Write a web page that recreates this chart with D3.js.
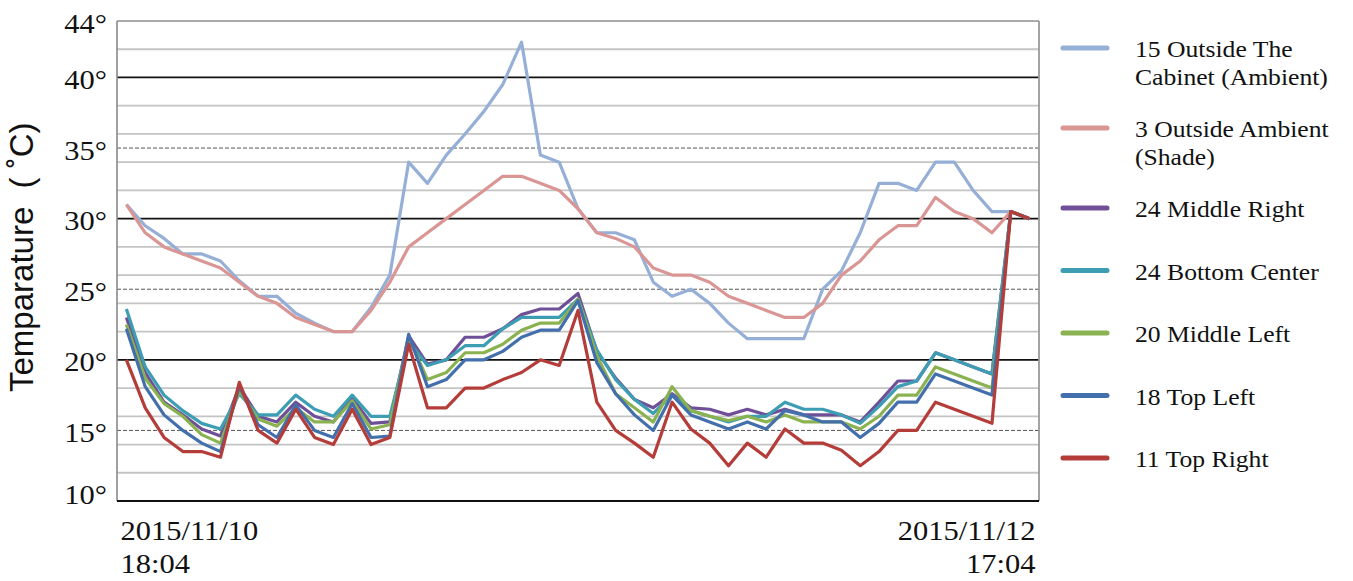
<!DOCTYPE html>
<html>
<head>
<meta charset="utf-8">
<script src="https://cdn.jsdelivr.net/npm/d3@7"></script>
<style>
  body { margin: 0; background: #fff; }
  .serif { font-family: "Liberation Serif", "Times New Roman", serif; fill: #111; }
</style>
</head>
<body>
<div class="chart"></div>
<script>
// sample index (readings between 2015/11/10 18:04 and 2015/11/12 17:04)
const samples = d3.range(49);

const outsideCabinet = [31.0,29.5,28.6,27.5,27.5,27.0,25.6,24.5,24.5,23.3,22.6,22.0,22.0,23.7,26.0,34.0,32.5,34.5,36.0,37.6,39.5,42.5,34.5,34.0,30.7,29.0,29.0,28.5,25.5,24.5,25.0,24.0,22.6,21.5,21.5,21.5,21.5,25.0,26.3,29.0,32.5,32.5,32.0,34.0,34.0,32.0,30.5,30.5,30.0];
const outsideShade   = [31.0,29.0,28.0,27.5,27.0,26.5,25.5,24.5,24.0,23.0,22.5,22.0,22.0,23.5,25.5,28.0,29.0,30.0,31.0,32.0,33.0,33.0,32.5,32.0,30.7,29.0,28.6,28.0,26.5,26.0,26.0,25.5,24.5,24.0,23.5,23.0,23.0,24.0,26.0,27.0,28.5,29.5,29.5,31.5,30.5,30.0,29.0,30.5,30.0];
const middleRight    = [23.0,19.1,17.0,16.1,15.1,14.6,18.1,16.0,15.6,17.0,16.0,15.6,17.3,15.5,15.6,21.7,19.7,20.0,21.6,21.6,22.2,23.2,23.6,23.6,24.7,20.6,18.7,17.2,16.6,17.6,16.6,16.5,16.1,16.5,16.1,16.5,16.1,16.1,16.1,15.6,17.0,18.5,18.5,20.5,20.0,19.5,19.0,30.5,30.0];
const bottomCenter   = [23.6,19.5,17.5,16.4,15.5,15.1,17.6,16.1,16.1,17.5,16.5,16.0,17.5,16.0,16.0,21.3,19.6,20.0,21.0,21.0,22.2,23.0,23.0,23.0,24.3,20.7,18.6,17.2,16.2,17.5,16.4,16.0,15.6,16.0,16.0,17.0,16.5,16.5,16.1,15.5,16.7,18.1,18.5,20.5,20.0,19.5,19.0,30.5,30.0];
const middleLeft     = [22.5,18.7,16.9,16.0,14.7,14.1,17.8,15.8,15.3,16.6,15.6,15.6,17.1,15.1,15.4,21.6,18.6,19.1,20.5,20.5,21.1,22.1,22.6,22.6,24.3,20.3,17.6,16.6,15.6,18.1,16.4,16.0,15.7,16.0,15.6,16.1,15.6,15.6,15.6,15.1,16.0,17.5,17.5,19.5,19.0,18.5,18.0,30.5,30.0];
const topLeft        = [22.2,18.1,16.1,15.0,14.1,13.5,18.1,15.4,14.5,16.8,15.0,14.5,16.9,14.5,14.6,21.8,18.1,18.6,20.0,20.0,20.6,21.6,22.1,22.1,24.2,19.8,17.6,16.1,15.0,17.5,16.1,15.6,15.1,15.6,15.1,16.4,16.1,15.6,15.6,14.5,15.5,17.0,17.0,19.0,18.5,18.0,17.5,30.5,30.0];
const topRight       = [20.0,16.6,14.5,13.5,13.5,13.1,18.4,15.0,14.1,16.5,14.5,14.0,16.5,14.0,14.5,21.1,16.6,16.6,18.0,18.0,18.6,19.1,20.0,19.6,23.5,17.0,15.0,14.1,13.1,17.0,15.1,14.1,12.5,14.1,13.1,15.1,14.1,14.1,13.6,12.5,13.5,15.0,15.0,17.0,16.5,16.0,15.5,30.5,30.0];

const seriesLabels = [["15 Outside The", "Cabinet (Ambient)"], ["3 Outside Ambient", "(Shade)"], ["24 Middle Right"], ["24 Bottom Center"], ["20 Middle Left"], ["18 Top Left"], ["11 Top Right"]];
const seriesValues = [outsideCabinet, outsideShade, middleRight, bottomCenter, middleLeft, topLeft, topRight];
const seriesColors = ["#95afd7", "#d99694", "#6f5098", "#3d9db3", "#8ab250", "#4370ad", "#b43c39"];

const yTickValues = [10, 15, 20, 25, 30, 35, 40, 44];
const minorGrid = [12, 14, 16, 18, 22, 24, 26, 28, 32, 34, 36, 38, 42];
const majorGrid = [20, 30, 40];
const dashedGrid = [15, 25, 35];
const xStartLabel = ["2015/11/10", "18:04"];
const xEndLabel = ["2015/11/12", "17:04"];
const yTitle = "Temparature  ( \u02DAC)";

function LineChart(container) {
    const margin = {top: 21, left: 117, right: 314, bottom: 80};
    const W = 1353, H = 581;
    const width = W - margin.left - margin.right,
        height = H - margin.top - margin.bottom;

    const svg = d3.select(container)
        .append("svg")
        .attr("width", W)
        .attr("height", H);

    const gr = svg.append("g")
        .attr("transform", "translate(" + margin.left + "," + margin.top + ")");

    const xScale = d3.scalePoint()
        .domain(samples)
        .range([0, width])
        .padding(0.5);

    const yScale = d3.scaleLinear()
        .domain([10, 44])
        .range([height, 0]);

    // grid
    gr.selectAll(".minor").data(minorGrid).join("line")
        .attr("x1", 0).attr("x2", width)
        .attr("y1", d => yScale(d)).attr("y2", d => yScale(d))
        .attr("stroke", "#c4c4c4").attr("stroke-width", 1.8);

    gr.selectAll(".dashed").data(dashedGrid).join("line")
        .attr("x1", 0).attr("x2", width)
        .attr("y1", d => yScale(d)).attr("y2", d => yScale(d))
        .attr("stroke", "#555").attr("stroke-width", 1)
        .attr("stroke-dasharray", "4,2");

    gr.selectAll(".major").data(majorGrid).join("line")
        .attr("x1", 0).attr("x2", width)
        .attr("y1", d => yScale(d)).attr("y2", d => yScale(d))
        .attr("stroke", "#111").attr("stroke-width", 1.8);

    // frame
    gr.append("line").attr("x1", 0).attr("x2", width).attr("y1", 0).attr("y2", 0)
        .attr("stroke", "#aaa").attr("stroke-width", 1.8);
    gr.append("line").attr("x1", width).attr("x2", width).attr("y1", 0).attr("y2", height)
        .attr("stroke", "#999").attr("stroke-width", 1.8);
    gr.append("line").attr("x1", 0).attr("x2", 0).attr("y1", 0).attr("y2", height)
        .attr("stroke", "#8a8a8a").attr("stroke-width", 1.6);
    gr.append("line").attr("x1", 0).attr("x2", width).attr("y1", height).attr("y2", height)
        .attr("stroke", "#111").attr("stroke-width", 1.8);

    // y axis labels
    const yAxis = d3.axisLeft(yScale)
        .tickValues(yTickValues)
        .tickSize(0)
        .tickFormat(d => d + "\u00B0");

    gr.append("g")
        .attr("class", "axis y-axis")
        .call(yAxis)
        .call(g => g.select(".domain").remove())
        .call(g => g.selectAll(".tick text")
            .attr("class", "serif")
            .attr("x", null).attr("dy", null)
            .attr("font-size", 27)
            .attr("fill", d => dashedGrid.includes(d) ? "#6b62a6" : "#111")
            .attr("transform", d => "translate(-10," + (d === 10 ? 2 : 11) + ") scale(1.13,1)"));

    // x labels
    const xl = gr.append("g").attr("class", "x-labels");
    xl.append("text").attr("class", "serif")
        .attr("font-size", 27)
        .attr("transform", "translate(" + (xScale(samples[0]) - 6) + "," + (height + 39) + ") scale(1.13,1)")
        .selectAll("tspan").data(xStartLabel).join("tspan")
        .attr("x", 0).attr("dy", (d, i) => i ? 33 : 0)
        .text(d => d);
    xl.append("text").attr("class", "serif")
        .attr("font-size", 27)
        .attr("text-anchor", "end")
        .attr("transform", "translate(" + (xScale(samples[samples.length - 1]) + 6) + "," + (height + 39) + ") scale(1.13,1)")
        .selectAll("tspan").data(xEndLabel).join("tspan")
        .attr("x", 0).attr("dy", (d, i) => i ? 33 : 0)
        .text(d => d);

    // y title
    svg.append("text")
        .attr("transform", "translate(33,392) rotate(-90)")
        .attr("font-family", "'Liberation Sans', Arial, sans-serif")
        .attr("font-size", 33)
        .attr("fill", "#111")
        .style("white-space", "pre")
        .text(yTitle);

    // lines
    const line = d3.line()
        .x((d, i) => xScale(samples[i]))
        .y(d => yScale(d));

    gr.selectAll(".series").data(seriesValues).join("path")
        .attr("class", "series")
        .attr("d", line)
        .attr("fill", "none")
        .attr("stroke", (d, i) => seriesColors[i])
        .attr("stroke-width", 3.2)
        .attr("stroke-linejoin", "round");

    // legend
    const lg = svg.append("g").attr("class", "legend");
    let ly = 48;
    seriesLabels.forEach((lines, i) => {
        lg.append("line")
            .attr("x1", 1063).attr("x2", 1107)
            .attr("y1", ly).attr("y2", ly)
            .attr("stroke", seriesColors[i])
            .attr("stroke-width", 5)
            .attr("stroke-linecap", "round");
        lg.append("text").attr("class", "serif")
            .attr("font-size", 22.5)
            .attr("transform", "translate(1135," + (ly + 9) + ") scale(1.14,1)")
            .selectAll("tspan").data(lines).join("tspan")
            .attr("x", 0).attr("dy", (d, j) => j ? 28 : 0)
            .text(d => d);
        ly += lines.length === 2 ? 80 : 62.5;
    });
}

LineChart(".chart");
</script>
</body>
</html>
